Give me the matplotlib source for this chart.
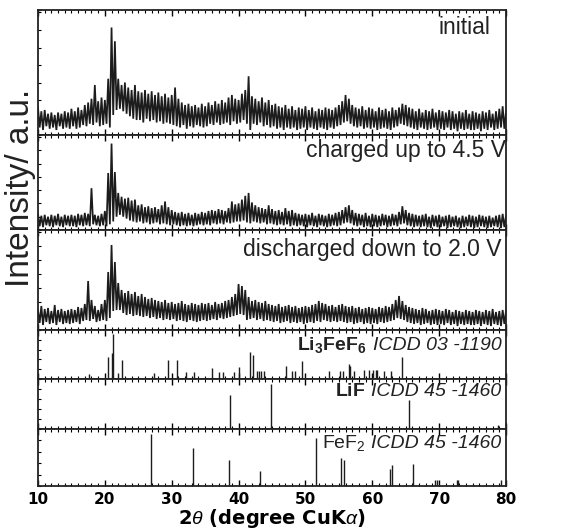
import numpy as np
import matplotlib
matplotlib.use("Agg")
import matplotlib.pyplot as plt
from matplotlib.ticker import MultipleLocator

plt.rcParams['font.family'] = ['Liberation Sans', 'DejaVu Sans']
plt.rcParams['mathtext.fontset'] = 'custom'
plt.rcParams['mathtext.rm'] = 'Liberation Sans'
plt.rcParams['mathtext.it'] = 'Liberation Sans:italic'
plt.rcParams['mathtext.bf'] = 'Liberation Sans:bold'

# ---- XRD patterns: upper values at 10, 10.5, ... 80 ; lower values at 10.25, 10.75 ... 79.75 (% of panel height)
initial_upper = [22, 19, 20, 17, 18, 16, 18, 17, 19, 18,
                 21, 19, 22, 20, 24, 26, 29, 40, 27, 30,
                 28, 45, 86, 75, 45, 40, 42, 38, 36, 40,
                 35, 34, 36, 33, 35, 32, 34, 31, 33, 30,
                 32, 38, 29, 26, 24, 25, 23, 24, 22, 25,
                 23, 26, 24, 27, 25, 28, 26, 30, 32, 29,
                 28, 33, 36, 47, 31, 29, 27, 30, 26, 28,
                 24, 25, 23, 22, 24, 21, 23, 20, 22, 21,
                 23, 20, 22, 19, 21, 20, 22, 21, 20, 22,
                 24, 27, 32, 29, 24, 22, 21, 23, 20, 22,
                 21, 19, 22, 20, 21, 19, 22, 20, 22, 25,
                 24, 22, 21, 19, 21, 18, 20, 19, 21, 18,
                 20, 19, 18, 20, 19, 17, 19, 18, 20, 17,
                 19, 18, 17, 19, 18, 20, 17, 19, 21, 23,
                 19]
initial_lower = [6, 4, 7, 5, 6, 4, 7, 5, 6, 5,
                 7, 5, 6, 8, 7, 9, 8, 10, 7, 8,
                 9, 6, 16, 20, 21, 19, 17, 15, 13, 12,
                 12, 10, 13, 11, 12, 10, 11, 9, 10, 9,
                 8, 7, 6, 8, 5, 7, 6, 8, 7, 6,
                 7, 9, 8, 10, 8, 9, 10, 8, 11, 9,
                 10, 12, 9, 4, 9, 8, 10, 7, 8, 6,
                 7, 5, 6, 4, 6, 5, 6, 4, 5, 6,
                 4, 6, 5, 4, 6, 5, 4, 6, 5, 7,
                 8, 10, 11, 9, 7, 6, 7, 5, 6, 5,
                 6, 4, 5, 6, 5, 4, 6, 7, 9, 8,
                 7, 6, 5, 4, 6, 5, 4, 5, 6, 4,
                 5, 4, 6, 4, 5, 3, 5, 4, 5, 4,
                 4, 5, 3, 5, 4, 6, 4, 5, 6, 5]

charged_upper = [17, 15, 16, 14, 16, 15, 17, 14, 16, 15,
                 16, 15, 17, 16, 18, 17, 44, 16, 15, 17,
                 20, 60, 91, 61, 39, 35, 33, 34, 31, 32,
                 26, 27, 24, 25, 23, 24, 22, 26, 30, 24,
                 21, 19, 18, 19, 17, 18, 16, 18, 17, 19,
                 18, 20, 21, 20, 22, 21, 20, 23, 30, 27,
                 28, 32, 36, 39, 29, 26, 24, 23, 22, 26,
                 22, 20, 21, 19, 23, 20, 21, 18, 17, 16,
                 17, 16, 18, 15, 17, 16, 15, 17, 16, 18,
                 19, 21, 24, 26, 21, 18, 17, 16, 18, 15,
                 17, 16, 15, 17, 16, 15, 17, 16, 19, 25,
                 21, 18, 17, 16, 15, 16, 17, 14, 16, 15,
                 16, 14, 15, 16, 14, 15, 13, 15, 14, 16,
                 15, 14, 16, 15, 14, 15, 13, 15, 16, 17,
                 15]
charged_lower = [4, 3, 5, 4, 3, 5, 4, 3, 5, 4,
                 4, 3, 5, 4, 5, 4, 6, 5, 4, 5,
                 4, 6, 9, 14, 16, 14, 12, 10, 9, 8,
                 9, 7, 8, 6, 7, 8, 6, 7, 6, 5,
                 6, 5, 4, 5, 4, 5, 4, 5, 6, 5,
                 6, 5, 7, 6, 7, 6, 8, 7, 8, 9,
                 9, 10, 8, 7, 9, 8, 7, 8, 6, 7,
                 6, 5, 6, 5, 6, 4, 5, 4, 5, 4,
                 3, 5, 4, 3, 5, 4, 3, 4, 5, 4,
                 5, 7, 8, 7, 5, 4, 5, 3, 4, 3,
                 4, 3, 4, 5, 3, 4, 5, 4, 6, 7,
                 5, 4, 3, 4, 3, 4, 3, 2, 4, 3,
                 3, 4, 2, 3, 4, 3, 2, 3, 4, 3,
                 2, 3, 4, 3, 2, 3, 4, 3, 2, 3]

discharged_upper = [20, 24, 21, 22, 19, 25, 20, 21, 19, 20,
                    21, 20, 23, 22, 26, 49, 30, 24, 20, 26,
                    30, 58, 85, 68, 47, 40, 37, 39, 36, 38,
                    34, 36, 33, 31, 32, 30, 29, 28, 30, 27,
                    28, 26, 27, 29, 26, 25, 27, 26, 25, 27,
                    26, 27, 25, 28, 26, 27, 29, 30, 33, 36,
                    46, 44, 40, 33, 29, 30, 28, 27, 29, 26,
                    25, 24, 26, 23, 24, 25, 23, 24, 22, 23,
                    24, 23, 25, 26, 29, 27, 26, 24, 25, 23,
                    25, 26, 24, 23, 24, 22, 23, 21, 22, 23,
                    22, 21, 23, 22, 24, 23, 26, 30, 34, 29,
                    25, 23, 22, 21, 20, 22, 21, 19, 20, 21,
                    20, 19, 21, 20, 18, 20, 19, 18, 20, 19,
                    18, 20, 19, 18, 20, 19, 21, 18, 19, 20,
                    19]
discharged_lower = [7, 5, 8, 6, 7, 5, 8, 6, 7, 6,
                    7, 8, 6, 9, 10, 9, 11, 8, 9, 10,
                    9, 12, 19, 20, 20, 17, 15, 16, 14, 15,
                    14, 13, 14, 12, 13, 11, 12, 10, 11, 10,
                    11, 9, 10, 9, 8, 10, 9, 8, 9, 10,
                    9, 10, 11, 10, 12, 11, 12, 13, 14, 15,
                    16, 15, 10, 11, 12, 10, 11, 9, 10, 9,
                    8, 9, 7, 8, 9, 7, 8, 7, 8, 6,
                    7, 8, 7, 9, 8, 10, 9, 8, 9, 8,
                    9, 8, 7, 8, 6, 7, 8, 6, 7, 6,
                    7, 6, 8, 7, 8, 9, 10, 12, 11, 10,
                    8, 7, 6, 7, 5, 6, 7, 5, 6, 5,
                    6, 5, 7, 5, 6, 4, 6, 5, 6, 5,
                    5, 6, 4, 6, 5, 4, 6, 5, 4, 6]

# ---- Reference stick patterns
li3fef6_pos = [17.7, 20.4, 21.0, 21.2, 21.9, 22.6, 27.4, 29.4, 30.8, 32.2, 33.3, 36.1, 37.0,
               37.7, 39.3, 40.0, 41.7, 42.1, 42.7, 43.1, 43.4, 43.8, 47.1, 48.0, 48.5, 49.5,
               53.5, 55.1, 55.6, 56.5, 56.7, 57.3, 58.8, 59.5, 60.1, 60.5, 60.7, 61.7, 62.8, 64.4]
li3fef6_int = [10, 45, 54, 92, 12, 39, 12, 38, 38, 14, 14, 23, 14,
               14, 14, 24, 56, 49, 16, 16, 16, 16, 26, 16, 16, 37,
               16, 16, 16, 30, 26, 16, 19, 19, 19, 19, 19, 16, 16, 45]
lif_pos = [38.7, 44.9, 65.5, 78.8]
lif_int = [68, 91, 58, 8]
fef2_pos = [26.9, 33.2, 38.5, 43.2, 51.6, 55.3, 55.7, 62.6, 62.9, 66.1, 69.4, 69.7, 72.6, 72.8, 79.2]
fef2_int = [92, 66, 46, 26, 84, 50, 46, 30, 37, 38, 10, 10, 10, 10, 10]

pattern_labels = ["initial", "charged up to 4.5 V", "discharged down to 2.0 V"]
pattern_label_pos = [(0.966, 0.864), (1.0, 0.84), (0.99, 0.80)]
phase_names = [r"$\mathbf{Li_3FeF_6}$", r"$\mathbf{LiF}$", r"FeF$_2$"]
card_labels = ["ICDD 03 -1190", "ICDD 45 -1460", "ICDD 45 -1460"]
xticks = [10, 20, 30, 40, 50, 60, 70, 80]

W, H = 567, 530
fig = plt.figure(figsize=(W / 100, H / 100), dpi=100)
panels_px = [(10, 135), (135, 230), (230, 330), (330, 379), (379, 429), (429, 486)]
x0, x1 = 38, 506
axes = []
for (t, b) in panels_px:
    ax = fig.add_axes([x0 / W, 1 - b / H, (x1 - x0) / W, (b - t) / H])
    ax.set_xlim(10, 80)
    ax.set_ylim(0, 100)
    ax.xaxis.set_major_locator(MultipleLocator(10))
    ax.xaxis.set_minor_locator(MultipleLocator(1))
    ax.yaxis.set_major_locator(MultipleLocator(14 if (b - t) > 80 else 20))
    ax.yaxis.set_minor_locator(MultipleLocator(100))
    ax.tick_params(axis='x', which='major', direction='in', top=True, bottom=True,
                   length=4, width=1.0, labelbottom=False)
    ax.tick_params(axis='x', which='minor', direction='in', top=True, bottom=True,
                   length=2.2, width=0.8)
    ax.tick_params(axis='y', which='both', direction='in', left=True, right=False,
                   length=2.5, width=0.8, labelleft=False)
    for s in ax.spines.values():
        s.set_linewidth(1.3)
        s.set_color('#222222')
    axes.append(ax)

xu = 10 + 0.5 * np.arange(len(initial_upper))
xl = 10.25 + 0.5 * np.arange(len(initial_lower))
for ax, up, lo, lab, lp in zip(axes[:3],
                               [initial_upper, charged_upper, discharged_upper],
                               [initial_lower, charged_lower, discharged_lower],
                               pattern_labels, pattern_label_pos):
    n = len(up) + len(lo)
    xs = np.empty(n)
    ys = np.empty(n)
    xs[0::2] = xu
    ys[0::2] = up
    xs[1::2] = xl
    ys[1::2] = lo
    ax.plot(xs, ys, color='#1c1c1c', lw=1.25, solid_joinstyle='miter')
    ax.text(lp[0], lp[1], lab, transform=ax.transAxes,
            ha='right', va='center', fontsize=16.5, color='#222222')

for ax, pos, inten, name, card, yy in zip(axes[3:], [li3fef6_pos, lif_pos, fef2_pos],
                                          [li3fef6_int, lif_int, fef2_int], phase_names,
                                          card_labels, [0.69, 0.74, 0.75]):
    ax.vlines(pos, 0, inten, color='#1c1c1c', lw=1.0)
    t = ax.text(0.99, yy, card, transform=ax.transAxes, ha='right', va='center',
                fontsize=14, style='italic', color='#222222')
    ax.annotate(name, xy=(0, 0.5), xycoords=t, xytext=(-4, 0), textcoords='offset points',
                ha='right', va='center', fontsize=14, color='#222222')

axes[-1].tick_params(axis='x', which='major', labelbottom=True, pad=4)
axes[-1].set_xticks(xticks)
axes[-1].set_xticklabels([str(v) for v in xticks], fontsize=11, fontweight='bold',
                         family='DejaVu Sans')
axes[-1].set_xlabel(r"2$\mathit{\theta}$ (degree CuK$\alpha$)", fontsize=14,
                    fontweight='bold', family='DejaVu Sans', labelpad=0)

fig.text(21 / W, 1 - 188 / H, "Intensity/ a.u.", rotation=90, ha='center', va='center',
         fontsize=24, color='#222222')

fig.savefig("out.png", dpi=100)
